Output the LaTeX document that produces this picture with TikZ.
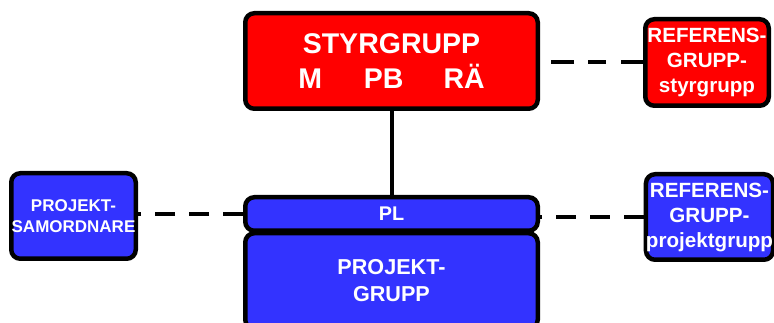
\documentclass[tikz,border=0pt]{standalone}
\usepackage{fontspec}
\setmainfont{Liberation Sans}
\definecolor{grpred}{RGB}{255,0,0}
\definecolor{grpblue}{RGB}{51,51,255}
\tikzset{
  grpbox/.style={draw=black, line width=4.5pt, rounded corners=9pt, inner sep=0pt,
    text=white, align=center, font=\bfseries},
  redbox/.style={grpbox, fill=grpred},
  bluebox/.style={grpbox, fill=grpblue},
  dashlink/.style={line width=4pt, dash pattern=on 20pt off 14pt},
  solidlink/.style={line width=4pt},
}
\begin{document}
\begin{tikzpicture}[x=1pt, y=-1pt]
\useasboundingbox (0,0) rectangle (774,323);
% steering group and its reference group
\node[redbox, minimum width=292.5pt, minimum height=95.5pt,
  font=\bfseries\fontsize{28.5}{35}\selectfont] (styr) at (391.5,61)
  {STYRGRUPP\\M\hspace{42pt}PB\hspace{40pt}RÄ};
\node[redbox, minimum width=123.5pt, minimum height=86.5pt,
  font=\bfseries\fontsize{20.6}{25}\selectfont] (refstyr) at (707,62.5)
  {REFERENS-\\GRUPP-\\styrgrupp};
% project group with project leader on top
\node[bluebox, minimum width=292.5pt, minimum height=95.5pt,
  font=\bfseries\fontsize{21.6}{27}\selectfont] (pg) at (391.5,281)
  {PROJEKT-\\GRUPP};
\node[bluebox, minimum width=292.5pt, minimum height=33.5pt,
  font=\bfseries\fontsize{19.8}{24}\selectfont] (pl) at (391.5,214) {PL};
% side boxes
\node[bluebox, minimum width=124.5pt, minimum height=85.5pt,
  font=\bfseries\fontsize{17}{21}\selectfont] (samord) at (73.5,216)
  {PROJEKT-\\SAMORDNARE};
\node[bluebox, minimum width=120.5pt, minimum height=85.5pt,
  font=\bfseries\fontsize{20.6}{25}\selectfont] (refproj) at (709.5,217)
  {REFERENS-\\GRUPP-\\projektgrupp};
% connectors
\draw[solidlink] (styr.south) -- (pl.north);
\draw[dashlink, dash pattern=on 22pt off 15pt on 18pt off 14pt on 23pt off 20pt]
  (refstyr.west) -- (refstyr.west -| styr.east);
\draw[dashlink] (pl.west) -- (pl.west -| samord.east);
\draw[dashlink] (refproj.west) -- (refproj.west -| pl.east);
\end{tikzpicture}
\end{document}
